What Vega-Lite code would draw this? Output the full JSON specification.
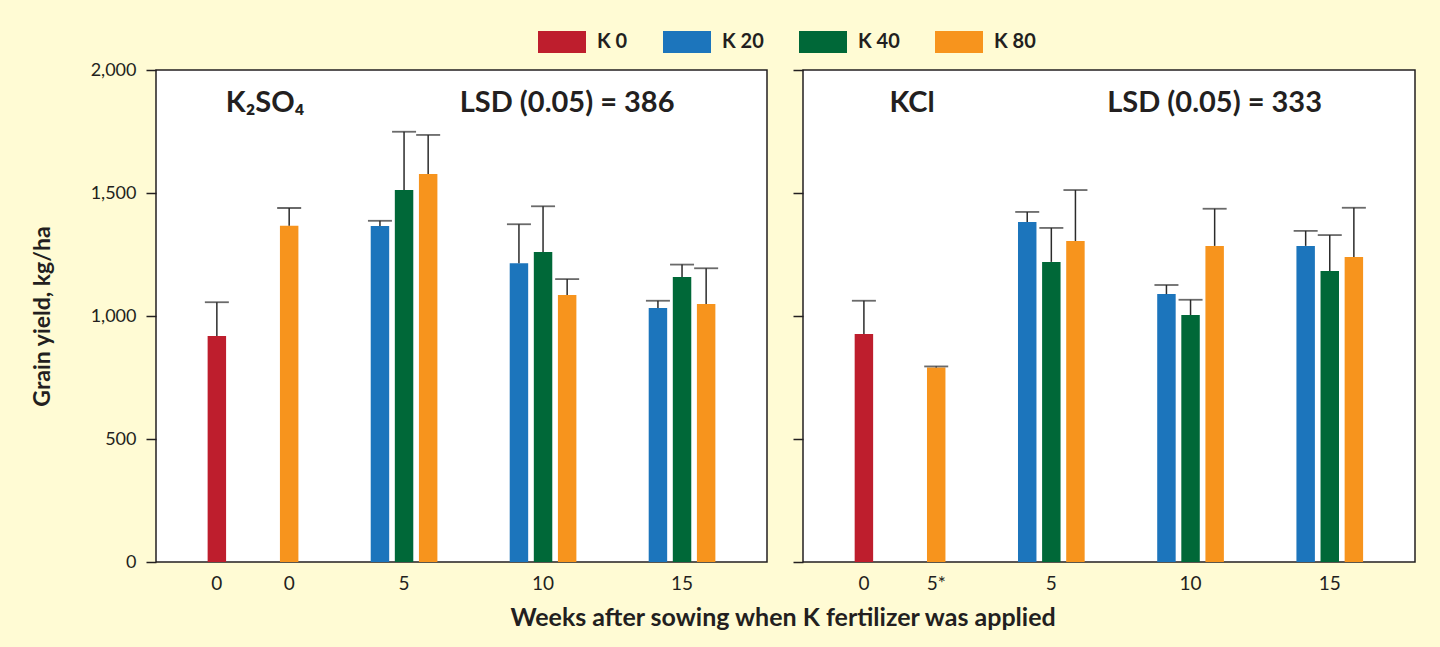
{
  "$schema": "https://vega.github.io/schema/vega-lite/v6.json",
  "background": "#fffbd4",
  "padding": {"left": 30, "top": 18, "right": 25, "bottom": 20},
  "autosize": {"type": "pad"},
  "spacing": 23,
  "title": {
    "text": "Weeks after sowing when K fertilizer was applied",
    "orient": "bottom",
    "anchor": "middle",
    "font": "Lato",
    "fontSize": 25,
    "fontWeight": "bold",
    "color": "#231f20",
    "offset": 11,
    "dx": 60
  },
  "datasets": {
    "yield": [
      {"source": "K2SO4", "cluster": "0", "K": "K 0", "weeks": "0", "yield": 919, "upper": 1056},
      {"source": "K2SO4", "cluster": "0", "K": "K 80", "weeks": "0", "yield": 1367, "upper": 1439},
      {"source": "K2SO4", "cluster": "5", "K": "K 20", "weeks": "5", "yield": 1366, "upper": 1387},
      {"source": "K2SO4", "cluster": "5", "K": "K 40", "weeks": "5", "yield": 1512, "upper": 1749},
      {"source": "K2SO4", "cluster": "5", "K": "K 80", "weeks": "5", "yield": 1577, "upper": 1736},
      {"source": "K2SO4", "cluster": "10", "K": "K 20", "weeks": "10", "yield": 1214, "upper": 1373},
      {"source": "K2SO4", "cluster": "10", "K": "K 40", "weeks": "10", "yield": 1260, "upper": 1446},
      {"source": "K2SO4", "cluster": "10", "K": "K 80", "weeks": "10", "yield": 1085, "upper": 1150},
      {"source": "K2SO4", "cluster": "15", "K": "K 20", "weeks": "15", "yield": 1033, "upper": 1062},
      {"source": "K2SO4", "cluster": "15", "K": "K 40", "weeks": "15", "yield": 1159, "upper": 1209},
      {"source": "K2SO4", "cluster": "15", "K": "K 80", "weeks": "15", "yield": 1049, "upper": 1194},
      {"source": "KCl", "cluster": "0", "K": "K 0", "weeks": "0", "yield": 927, "upper": 1062},
      {"source": "KCl", "cluster": "0", "K": "K 80", "weeks": "5*", "yield": 791, "upper": 795},
      {"source": "KCl", "cluster": "5", "K": "K 20", "weeks": "5", "yield": 1382, "upper": 1423},
      {"source": "KCl", "cluster": "5", "K": "K 40", "weeks": "5", "yield": 1220, "upper": 1358},
      {"source": "KCl", "cluster": "5", "K": "K 80", "weeks": "5", "yield": 1305, "upper": 1512},
      {"source": "KCl", "cluster": "10", "K": "K 20", "weeks": "10", "yield": 1089, "upper": 1126},
      {"source": "KCl", "cluster": "10", "K": "K 40", "weeks": "10", "yield": 1004, "upper": 1066},
      {"source": "KCl", "cluster": "10", "K": "K 80", "weeks": "10", "yield": 1285, "upper": 1436},
      {"source": "KCl", "cluster": "15", "K": "K 20", "weeks": "15", "yield": 1285, "upper": 1346},
      {"source": "KCl", "cluster": "15", "K": "K 40", "weeks": "15", "yield": 1183, "upper": 1329},
      {"source": "KCl", "cluster": "15", "K": "K 80", "weeks": "15", "yield": 1240, "upper": 1440}
    ],
    "notes": [
      {"source": "K2SO4", "cluster": "0", "K": "K 40", "note": "K₂SO₄", "y": 1865},
      {"source": "K2SO4", "cluster": "10", "K": "K 80", "note": "LSD (0.05) = 386", "y": 1865},
      {"source": "KCl", "cluster": "0", "K": "K 40", "note": "KCl", "y": 1865},
      {"source": "KCl", "cluster": "10", "K": "K 80", "note": "LSD (0.05) = 333", "y": 1865}
    ]
  },
  "config": {
    "font": "Lato",
    "view": {"fill": "white", "stroke": "#231f20", "strokeWidth": 1.5},
    "axis": {
      "labelFont": "Lato",
      "labelFontSize": 18,
      "labelColor": "#231f20",
      "titleFont": "Lato",
      "titleColor": "#231f20",
      "tickColor": "#231f20",
      "tickWidth": 1.5,
      "tickSize": 10,
      "labelPadding": 10,
      "domain": false,
      "grid": false
    },
    "axisY": {
      "titleFontSize": 23,
      "titleFontWeight": "bold",
      "titlePadding": 36
    },
    "legend": {
      "orient": "none",
      "direction": "horizontal",
      "legendX": 382,
      "legendY": -52,
      "padding": 0,
      "title": null,
      "labelFont": "Lato",
      "labelFontSize": 20,
      "labelFontWeight": "bold",
      "labelColor": "#231f20",
      "labelOffset": 11,
      "columnPadding": 35,
      "symbolType": "M-1,-0.458H1V0.458H-1Z",
      "symbolSize": 2304,
      "symbolStrokeWidth": 0,
      "symbolOpacity": 1
    }
  },
  "hconcat": [
    {
      "width": 611,
      "height": 492,
      "layer": [
        {
          "data": {"name": "yield"},
          "transform": [{"filter": "datum.source == 'K2SO4'"}],
          "mark": {"type": "bar"},
          "encoding": {
            "x": {"field": "cluster", "type": "nominal", "sort": ["0", "5", "10", "15"],
                  "scale": {"paddingInner": 0, "paddingOuter": 0.198},
                  "axis": null},
            "xOffset": {"field": "K", "type": "nominal",
                        "scale": {"domain": ["K 0", "K 20", "K 40", "K 80"], "paddingInner": 0.234, "paddingOuter": 1.0745}},
            "y": {"field": "yield", "type": "quantitative",
                  "scale": {"domain": [0, 2000], "nice": false},
                  "axis": {"values": [0, 500, 1000, 1500, 2000], "format": ",d",
                           "title": "Grain yield, kg/ha"}},
            "color": {"field": "K", "type": "nominal",
                      "scale": {"domain": ["K 0", "K 20", "K 40", "K 80"], "range": ["#be1e2d", "#1c75bc", "#006838", "#f7941d"]}}
          }
        },
        {
          "data": {"name": "yield"},
          "transform": [{"filter": "datum.source == 'K2SO4'"}],
          "mark": {"type": "rule", "color": "#2b2b2b", "strokeWidth": 1.5},
          "encoding": {
            "x": {"field": "cluster", "type": "nominal", "sort": ["0", "5", "10", "15"]},
            "xOffset": {"field": "K", "type": "nominal"},
            "y": {"field": "yield", "type": "quantitative"},
            "y2": {"field": "upper"}
          }
        },
        {
          "data": {"name": "yield"},
          "transform": [{"filter": "datum.source == 'K2SO4'"}],
          "mark": {"type": "tick", "orient": "horizontal", "color": "#2b2b2b", "thickness": 1.8, "size": 24},
          "encoding": {
            "x": {"field": "cluster", "type": "nominal", "sort": ["0", "5", "10", "15"]},
            "xOffset": {"field": "K", "type": "nominal"},
            "y": {"field": "upper", "type": "quantitative"}
          }
        },
        {
          "data": {"name": "yield"},
          "transform": [{"filter": "datum.source == 'K2SO4' && (datum.cluster == '0' || datum.K == 'K 40')"}],
          "mark": {"type": "text", "baseline": "top", "dy": 13, "fontSize": 19, "color": "#231f20"},
          "encoding": {
            "x": {"field": "cluster", "type": "nominal", "sort": ["0", "5", "10", "15"]},
            "xOffset": {"field": "K", "type": "nominal"},
            "y": {"datum": 0},
            "text": {"field": "weeks"}
          }
        },
        {
          "data": {"name": "notes"},
          "transform": [{"filter": "datum.source == 'K2SO4'"}],
          "mark": {"type": "text", "baseline": "middle", "fontSize": 29, "fontWeight": "bold", "color": "#231f20"},
          "encoding": {
            "x": {"field": "cluster", "type": "nominal", "sort": ["0", "5", "10", "15"]},
            "xOffset": {"field": "K", "type": "nominal"},
            "y": {"field": "y", "type": "quantitative"},
            "text": {"field": "note"}
          }
        }
      ]
    },
    {
      "width": 612,
      "height": 492,
      "layer": [
        {
          "data": {"name": "yield"},
          "transform": [{"filter": "datum.source == 'KCl'"}],
          "mark": {"type": "bar"},
          "encoding": {
            "x": {"field": "cluster", "type": "nominal", "sort": ["0", "5", "10", "15"],
                  "scale": {"paddingInner": 0, "paddingOuter": 0.198},
                  "axis": null},
            "xOffset": {"field": "K", "type": "nominal",
                        "scale": {"domain": ["K 0", "K 20", "K 40", "K 80"], "paddingInner": 0.234, "paddingOuter": 1.0745}},
            "y": {"field": "yield", "type": "quantitative",
                  "scale": {"domain": [0, 2000], "nice": false},
                  "axis": {"values": [0, 500, 1000, 1500, 2000], "labels": false, "title": null}},
            "color": {"field": "K", "type": "nominal",
                      "scale": {"domain": ["K 0", "K 20", "K 40", "K 80"], "range": ["#be1e2d", "#1c75bc", "#006838", "#f7941d"]}}
          }
        },
        {
          "data": {"name": "yield"},
          "transform": [{"filter": "datum.source == 'KCl'"}],
          "mark": {"type": "rule", "color": "#2b2b2b", "strokeWidth": 1.5},
          "encoding": {
            "x": {"field": "cluster", "type": "nominal", "sort": ["0", "5", "10", "15"]},
            "xOffset": {"field": "K", "type": "nominal"},
            "y": {"field": "yield", "type": "quantitative"},
            "y2": {"field": "upper"}
          }
        },
        {
          "data": {"name": "yield"},
          "transform": [{"filter": "datum.source == 'KCl'"}],
          "mark": {"type": "tick", "orient": "horizontal", "color": "#2b2b2b", "thickness": 1.8, "size": 24},
          "encoding": {
            "x": {"field": "cluster", "type": "nominal", "sort": ["0", "5", "10", "15"]},
            "xOffset": {"field": "K", "type": "nominal"},
            "y": {"field": "upper", "type": "quantitative"}
          }
        },
        {
          "data": {"name": "yield"},
          "transform": [{"filter": "datum.source == 'KCl' && (datum.cluster == '0' || datum.K == 'K 40')"}],
          "mark": {"type": "text", "baseline": "top", "dy": 13, "fontSize": 19, "color": "#231f20"},
          "encoding": {
            "x": {"field": "cluster", "type": "nominal", "sort": ["0", "5", "10", "15"]},
            "xOffset": {"field": "K", "type": "nominal"},
            "y": {"datum": 0},
            "text": {"field": "weeks"}
          }
        },
        {
          "data": {"name": "notes"},
          "transform": [{"filter": "datum.source == 'KCl'"}],
          "mark": {"type": "text", "baseline": "middle", "fontSize": 29, "fontWeight": "bold", "color": "#231f20"},
          "encoding": {
            "x": {"field": "cluster", "type": "nominal", "sort": ["0", "5", "10", "15"]},
            "xOffset": {"field": "K", "type": "nominal"},
            "y": {"field": "y", "type": "quantitative"},
            "text": {"field": "note"}
          }
        }
      ]
    }
  ]
}
